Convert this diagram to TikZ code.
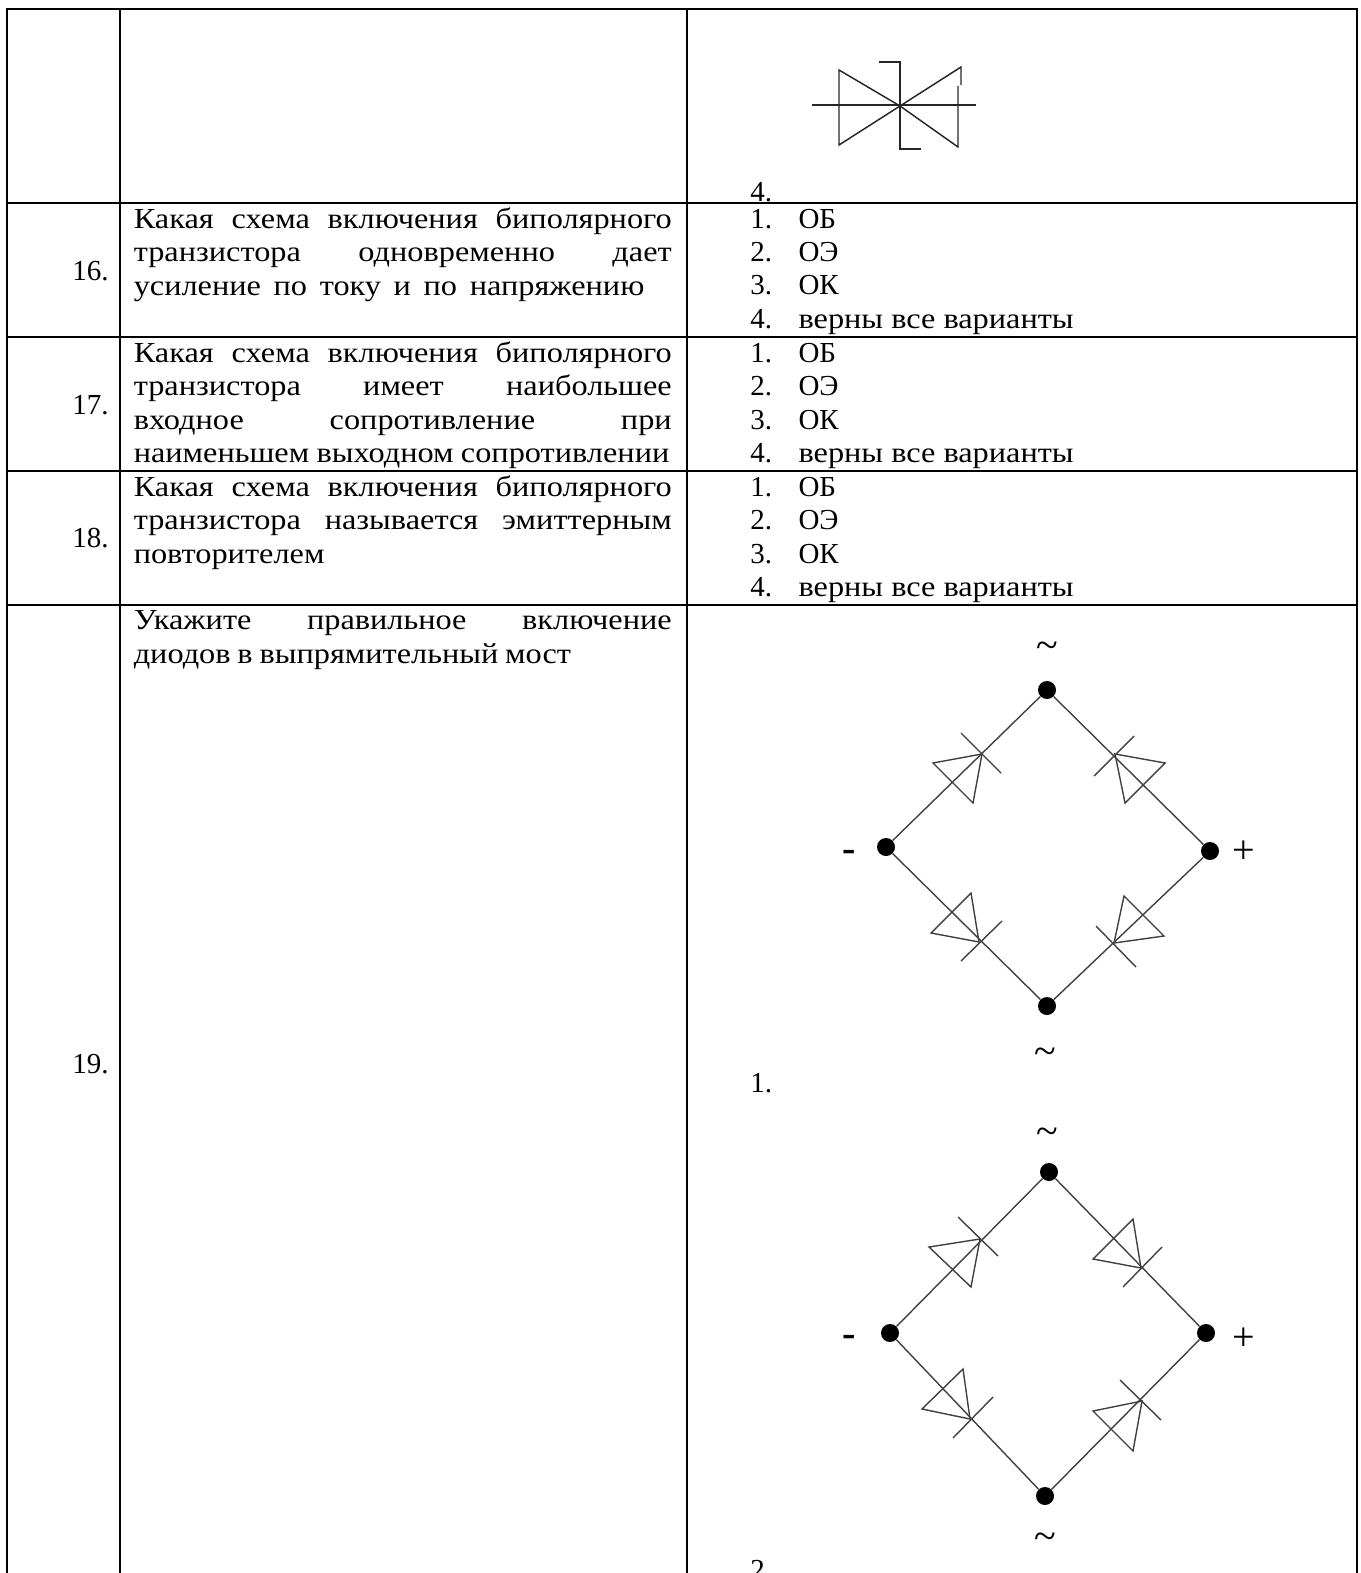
\documentclass[tikz,border=0pt]{standalone}
\usepackage{fontspec}
\setmainfont{Liberation Serif}
\newfontfamily\widefont[FakeStretch=1.115]{Liberation Serif}
\usetikzlibrary{positioning}
\newcommand{\jline}[2][403.5pt]{\makebox[#1][s]{#2}}
\newcommand{\opt}[2]{\makebox[36.2pt][l]{#1}#2}

\begin{document}
\begin{tikzpicture}[
        x=0.75pt, y=-0.75pt,
        cellbox/.style={anchor=base west, inner sep=0pt, align=left, font=\fontsize{21.75}{25}\selectfont},
        qbox/.style={anchor=base west, inner sep=0pt, align=left, font=\widefont\fontsize{21.75}{25}\selectfont},
        rowno/.style={anchor=base west, inner sep=0pt, font=\fontsize{21.75}{25}\selectfont},
        polelabel/.style={inner sep=0pt, font=\fontsize{30}{32}\selectfont},
        minuslabel/.style={inner sep=0pt, font=\fontsize{30}{32}\selectfont\bfseries},
        termdot/.style={circle, fill=black, inner sep=0pt, minimum size=13.5pt},
        wire/.style={draw=black!75, line width=1.05pt},
        sym/.style={draw=black!85, line width=1.1pt},
        rulethick/.style={line width=1.5pt},
        rulethin/.style={line width=0.8pt}
    ]
        \useasboundingbox (0,0) rectangle (1360,1573);

        % Table rules
        \draw[rulethick] (7,9) -- (7,1573);
        \draw[rulethick] (120,9) -- (120,1573);
        \draw[rulethick] (687,9) -- (687,1573);
        \draw[rulethick] (1357,9) -- (1357,1573);

        \draw[rulethick] (6,9) -- (800,9);
        \draw[rulethin] (800,9) -- (998,9);
        \draw[rulethick] (998,9) -- (1358,9);
        \draw[rulethick] (6,203) -- (800,203);
        \draw[rulethin] (800,203) -- (998,203);
        \draw[rulethick] (998,203) -- (1358,203);
        \draw[rulethick] (6,337) -- (1358,337);
        \draw[rulethick] (6,471) -- (1358,471);
        \draw[rulethick] (6,605) -- (800,605);
        \draw[rulethin] (800,605) -- (1294,605);
        \draw[rulethick] (1294,605) -- (1358,605);

        % Row numbers
        \node[rowno] (noA) at (72,280) {16.};
        \node[rowno] (noB) at (72,414) {17.};
        \node[rowno] (noC) at (72,547) {18.};
        \node[rowno] (noD) at (72,1073) {19.};

        % Questions
        \node[qbox] (qA) at (133.5,295) {\jline{Какая схема включения биполярного}\\\jline{транзистора одновременно дает}\\\jline[383pt]{усиление по току и по напряжению}};
        \node[qbox] (qB) at (133.5,462.5) {\jline{Какая схема включения биполярного}\\\jline{транзистора имеет наибольшее}\\\jline{входное сопротивление при}\\\jline[401.7pt]{наименьшем выходном сопротивлении}};
        \node[qbox] (qC) at (133.5,563) {\jline{Какая схема включения биполярного}\\\jline{транзистора называется эмиттерным}\\повторителем};
        \node[qbox] (qD) at (133.5,663) {\jline{Укажите правильное включение}\\\jline[328pt]{диодов в выпрямительный мост}};

        % Answers
        \node[cellbox] (aA) at (750,328) {\opt{1.}{ОБ}\\\opt{2.}{ОЭ}\\\opt{3.}{ОК}\\\opt{4.}{{\widefont верны все варианты}}};
        \node[cellbox] (aB) at (750,462.5) {\opt{1.}{ОБ}\\\opt{2.}{ОЭ}\\\opt{3.}{ОК}\\\opt{4.}{{\widefont верны все варианты}}};
        \node[cellbox] (aC) at (750,596.5) {\opt{1.}{ОБ}\\\opt{2.}{ОЭ}\\\opt{3.}{ОК}\\\opt{4.}{{\widefont верны все варианты}}};
        \node[rowno] (optTop) at (750,201) {4.};
        \node[rowno] (optOne) at (750,1092) {1.};
        \node[rowno] (optTwo) at (750,1579) {2.};

        % Symmetric zener symbol
        \draw[sym] (812,105) -- (976,105);
        \draw[sym] (900,106) -- (839,70) -- (839,145) -- cycle;
        \draw[sym] (958,86) -- (958,147) -- (900,106) -- (961,67) -- (961,85);
        \draw[sym] (879,62) -- (900,62) -- (900,149) -- (921,149);

        % First bridge
        \node[termdot] (topA) at (1047,690) {};
        \node[termdot] (leftA) at (886,847) {};
        \node[termdot] (rightA) at (1210,851) {};
        \node[termdot] (botA) at (1047,1006) {};
        \draw[wire] (leftA) -- (topA);
        \draw[wire] (topA) -- (rightA);
        \draw[wire] (leftA) -- (botA);
        \draw[wire] (botA) -- (rightA);
        \node[polelabel] (acA) at (1047,650) {\textasciitilde};
        \node[polelabel] (acB) at (1045,1056) {\textasciitilde};
        \node[minuslabel] (minusA) at (849,856) {-};
        \node[polelabel] (plusA) at (1244,852) {+};

        \draw[wire] (982,754) -- (933,763) -- (973,803) -- cycle;
        \draw[wire] (961,733) -- (1001,773);
        \draw[wire] (1115,754) -- (1165,763) -- (1125,803) -- cycle;
        \draw[wire] (1134,736) -- (1094,776);
        \draw[wire] (979,942) -- (931,933) -- (971,893) -- cycle;
        \draw[wire] (1002,921) -- (961,961);
        \draw[wire] (1114,943) -- (1164,936) -- (1124,896) -- cycle;
        \draw[wire] (1096,926) -- (1136,967);

        % Second bridge
        \node[termdot] (topB) at (1049,1172) {};
        \node[termdot] (leftB) at (890,1333) {};
        \node[termdot] (rightB) at (1206,1333) {};
        \node[termdot] (botB) at (1045,1496) {};
        \draw[wire] (leftB) -- (topB);
        \draw[wire] (topB) -- (rightB);
        \draw[wire] (leftB) -- (botB);
        \draw[wire] (botB) -- (rightB);
        \node[polelabel] (acC) at (1047,1136) {\textasciitilde};
        \node[polelabel] (acD) at (1045,1541) {\textasciitilde};
        \node[minuslabel] (minusB) at (849,1341) {-};
        \node[polelabel] (plusB) at (1244,1339) {+};

        \draw[wire] (980,1239) -- (929,1247) -- (971,1287) -- cycle;
        \draw[wire] (958,1217) -- (998,1256);
        \draw[wire] (1141,1268) -- (1093,1259) -- (1133,1219) -- cycle;
        \draw[wire] (1162,1247) -- (1123,1287);
        \draw[wire] (970,1419) -- (922,1409) -- (963,1369) -- cycle;
        \draw[wire] (993,1397) -- (953,1438);
        \draw[wire] (1142,1401) -- (1093,1411) -- (1133,1451) -- cycle;
        \draw[wire] (1120,1380) -- (1161,1420);
    \end{tikzpicture}
\end{document}
